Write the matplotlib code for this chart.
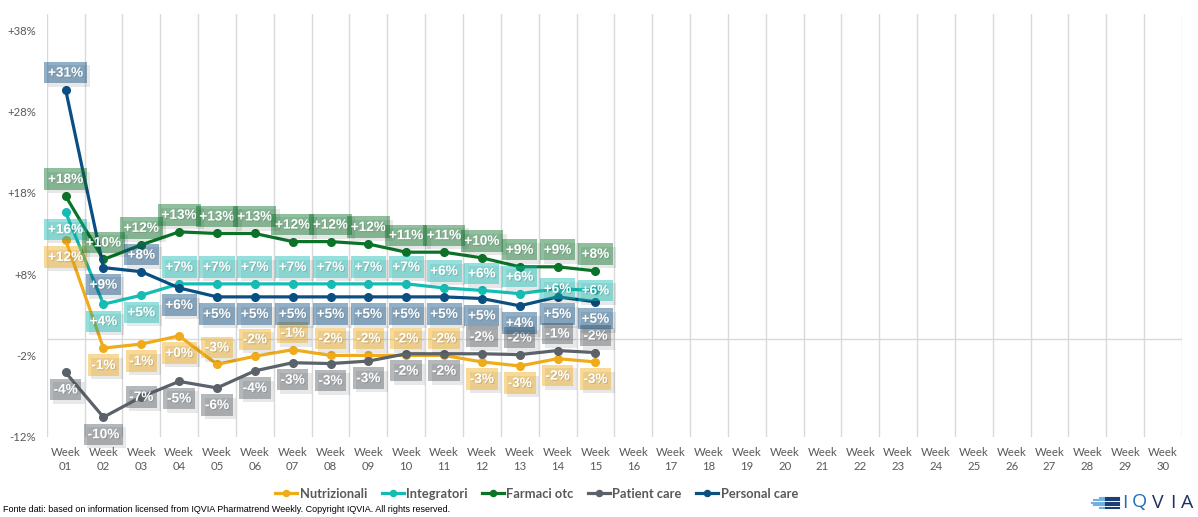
import numpy as np
import matplotlib
matplotlib.use("Agg")
import matplotlib.pyplot as plt
from matplotlib import patheffects as pe
from matplotlib.lines import Line2D

# ---------------- data ----------------
weeks = [f"Week\n{i:02d}" for i in range(1, 31)]
nutrizionali = [12.2, -1.1, -0.6, 0.4, -3.1, -2.1, -1.3, -2.0, -2.0, -2.0, -2.0, -2.8, -3.3, -2.4, -2.8]
integratori = [15.6, 4.3, 5.4, 6.8, 6.8, 6.8, 6.8, 6.8, 6.8, 6.8, 6.3, 6.0, 5.6, 6.2, 6.0]
farmaci_otc = [17.6, 9.8, 11.6, 13.2, 13.0, 13.0, 12.0, 12.0, 11.7, 10.7, 10.7, 10.0, 8.9, 8.9, 8.4]
patient_care = [-4.1, -9.6, -7.1, -5.2, -6.0, -3.9, -2.9, -3.0, -2.7, -1.8, -1.8, -1.8, -1.9, -1.4, -1.65]
personal_care = [30.7, 8.8, 8.3, 6.3, 5.2, 5.2, 5.2, 5.2, 5.2, 5.2, 5.2, 5.0, 4.1, 5.2, 4.6]
series_names = ["Nutrizionali", "Integratori", "Farmaci otc", "Patient care", "Personal care"]
yticks = [-12, -2, 8, 18, 28, 38]

# ---------------- style ----------------
colors = ["#f0ab1b", "#14bcb3", "#0a7328", "#5b6269", "#0b4f82"]
# label placement: a = above, b = below, c = centred on point
label_pos = [
    ["b", "b", "b", "b"] + ["a"] * 7 + ["b"] * 4,
    ["b", "b", "b"] + ["a"] * 10 + ["c", "c"],
    ["a"] * 15,
    ["b", "b", "c"] + ["b"] * 8 + ["a"] * 4,
    ["a", "b", "a"] + ["b"] * 12,
]
series = [nutrizionali, integratori, farmaci_otc, patient_care, personal_care]

W, H = 1198, 517
fig = plt.figure(figsize=(W / 100, H / 100), dpi=100)
left, right, bottom, top = 46.7, 1182, 436.7, 14
ax = fig.add_axes([left / W, 1 - bottom / H, (right - left) / W, (bottom - top) / H])
ax.set_xlim(0.5, 30.5)
ax.set_ylim(-12, 40)
for s in ax.spines.values():
    s.set_visible(False)

x_all = np.arange(1, 31)
ax.set_xticks(x_all)
ax.set_xticklabels(weeks, fontsize=8.2, color="#595959", family="Lato", linespacing=1.35)
ax.set_xticks(np.arange(0.5, 31, 1), minor=True)
ax.grid(which="minor", axis="x", color="#d9d9d9", lw=1)
ax.tick_params(axis="both", which="both", length=0)
ax.tick_params(axis="x", pad=7.5)
ax.set_yticks(yticks)
ax.set_yticklabels([f"{t:+d}%" for t in yticks], fontsize=8.2, color="#595959", family="Lato")
ax.tick_params(axis="y", pad=7.5)
ax.axhline(0, color="#d9d9d9", lw=1, zorder=1)

handles = []
for name, vals, c in zip(series_names, series, colors):
    xs = np.arange(1, len(vals) + 1)
    ln, = ax.plot(xs, vals, color=c, lw=2.3, marker="o", ms=5.5, zorder=3, label=name)
    handles.append(ln)

off = 17
for vals, c, pos in zip(series, colors, label_pos):
    for i, v in enumerate(vals):
        dy = {"a": off, "b": -off, "c": 0}[pos[i]]
        t = ax.annotate(f"{v:+.0f}%", (i + 1, v), xytext=(0, dy), textcoords="offset pixels",
                        ha="center", va="center", fontsize=9.8, fontweight="bold", color="white",
                        family="Liberation Sans", zorder=5,
                        bbox=dict(boxstyle="square,pad=0.27", fc=c, ec="none", alpha=0.45))
        t.get_bbox_patch().set_path_effects([
            pe.SimplePatchShadow(offset=(2.5, -2.5), shadow_rgbFace="#000000", alpha=0.09),
            pe.Normal()])
        t.set_path_effects([pe.withSimplePatchShadow(offset=(0.8, -0.8), alpha=0.2)])

leg = fig.legend(handles=handles, loc="center", bbox_to_anchor=(0.448, 1 - 494 / H), ncol=5,
                 frameon=False, handlelength=1.7, handletextpad=0.2, columnspacing=1.1,
                 markerscale=0.8, prop=dict(family="Lato", weight="bold", size=9.3))
for txt in leg.get_texts():
    txt.set_color("#595959")

fig.text(3 / W, 1 - 509.5 / H,
         "Fonte dati: based on information licensed from IQVIA Pharmatrend Weekly. Copyright IQVIA. All rights reserved.",
         fontsize=6.5, family="Liberation Sans", color="#000000", va="center", ha="left")

# IQVIA logo
stripe_y = [497.5, 500, 502.5, 505, 507.5]
stripe_x0 = [1100, 1094, 1092, 1094, 1100]
for yy, x0 in zip(stripe_y, stripe_x0):
    fig.add_artist(Line2D([x0 / W, 1106 / W], [1 - yy / H] * 2, color="#6fb1e3", lw=1.5))
    fig.add_artist(Line2D([1106 / W, 1119 / W], [1 - yy / H] * 2, color="#1c3f73", lw=1.5))
for ch, xx, col in zip("IQVIA", [1125, 1139, 1158, 1173, 1187], ["#1f6fb8", "#1f6fb8", "#1c3461", "#1c3461", "#1c3461"]):
    fig.text(xx / W, 1 - 502.5 / H, ch, fontsize=14, family="Open Sans", color=col,
             ha="center", va="center")

fig.savefig("out.png", dpi=100)
